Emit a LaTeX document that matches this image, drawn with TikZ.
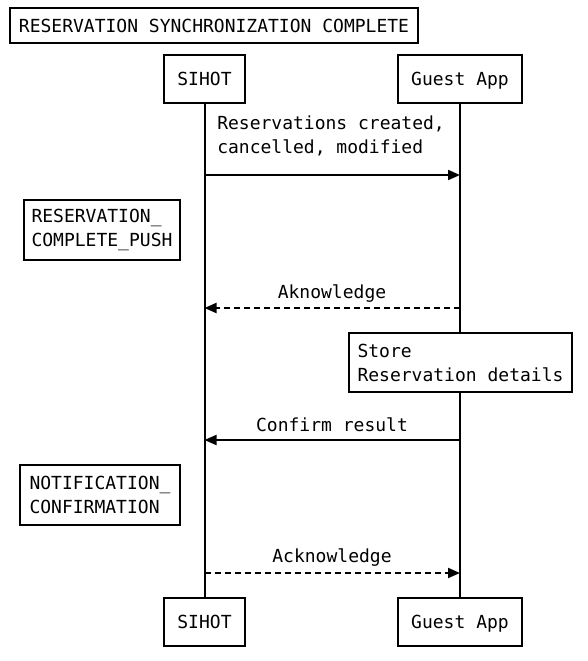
\documentclass[tikz,border=0pt]{standalone}
\usepackage{fontspec}
\setmainfont{DejaVu Sans Mono}
\usetikzlibrary{arrows.meta}
\begin{document}
\begin{tikzpicture}[x=0.75pt,y=-0.75pt,
  every node/.style={font=\fontsize{13.5}{18}\selectfont},
  box/.style={draw=black,line width=1.5pt,fill=white,inner sep=0pt,align=left},
  one/.style={text height=10pt,text depth=0pt},
  life/.style={line width=1.5pt},
  msg/.style={line width=1.5pt,-{Triangle[length=9pt,width=7.5pt]}},
  dmsg/.style={msg,dash pattern=on 4.5pt off 3pt},
  lbl/.style={inner sep=0pt,align=left}]
\useasboundingbox (0,0) rectangle (588,661);
\fill[white] (0,0) rectangle (588,661);
% title
\node[box,one,minimum width=306pt,minimum height=26.25pt] (title) at (214,25.5) {RESERVATION SYNCHRONIZATION COMPLETE};
% participants
\node[box,one,minimum width=60.75pt,minimum height=36pt] (s1) at (204.5,79) {SIHOT};
\node[box,one,minimum width=93pt,minimum height=36pt] (g1) at (460,79) {Guest App};
\node[box,one,minimum width=60.75pt,minimum height=36pt] (s2) at (204.5,622) {SIHOT};
\node[box,one,minimum width=93pt,minimum height=36pt] (g2) at (460,622) {Guest App};
% lifelines
\draw[life] (s1.south) -- (s2.north);
\draw[life] (g1.south) -- (g2.north);
% store box (over lifeline)
\node[box,minimum width=167.25pt,minimum height=44.25pt] (store) at (460.5,362.5) {Store\\Reservation details};
% notes
\node[box,minimum width=117pt,minimum height=45pt] (n1) at (102,230) {RESERVATION\_\\COMPLETE\_PUSH};
\node[box,minimum width=120pt,minimum height=45pt] (n2) at (100,495) {NOTIFICATION\_\\CONFIRMATION};
% message coordinates
\coordinate (a1) at (s1.south |- 0,175);
\coordinate (b1) at (g1.south |- 0,175);
\coordinate (a2) at (s1.south |- 0,308);
\coordinate (b2) at (g1.south |- 0,308);
\coordinate (a3) at (s1.south |- 0,440);
\coordinate (b3) at (g1.south |- 0,440);
\coordinate (a4) at (s1.south |- 0,573);
\coordinate (b4) at (g1.south |- 0,573);
% messages
\draw[msg] (a1) -- (b1);
\node[lbl,anchor=west] (l1) at (217,136) {Reservations created,\\cancelled, modified};
\draw[dmsg] (b2) -- (a2);
\node[lbl] (l2) at (332,294) {Aknowledge};
\draw[msg] (b3) -- (a3);
\node[lbl] (l3) at (332,425) {Confirm result};
\draw[dmsg] (a4) -- (b4);
\node[lbl] (l4) at (332,558) {Acknowledge};
\end{tikzpicture}
\end{document}
